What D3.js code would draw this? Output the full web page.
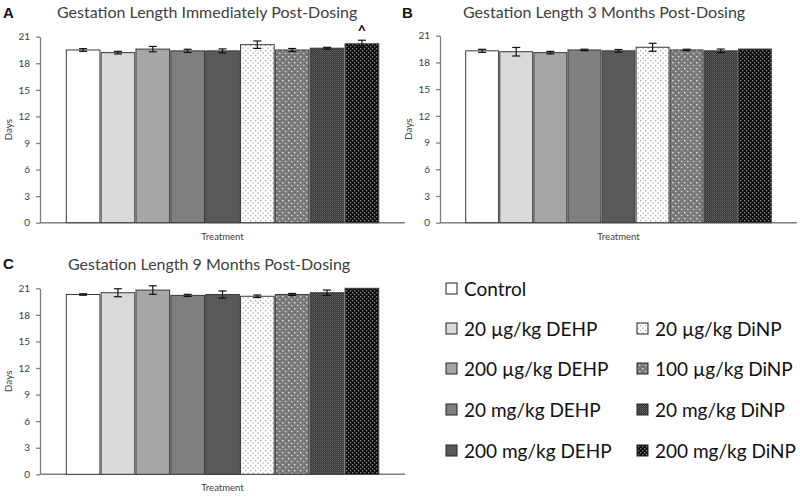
<!DOCTYPE html>
<html>
<head>
<meta charset="utf-8">
<script src="https://cdn.jsdelivr.net/npm/d3@7"></script>
<style>
  body { margin: 0; background: #fff; }
  svg { display: block; font-family: Lato, "Open Sans", sans-serif; }
</style>
</head>
<body>
<svg id="chart" width="800" height="499"></svg>
<script>
// treatment groups, same order in every panel
var groups = ["Control", "20 µg/kg DEHP", "200 µg/kg DEHP", "20 mg/kg DEHP", "200 mg/kg DEHP",
              "20 µg/kg DiNP", "100 µg/kg DiNP", "20 mg/kg DiNP", "200 mg/kg DiNP"];

// mean gestation length (days) and error (+/-)
var immediateMeans = [19.5, 19.2, 19.6, 19.4, 19.4, 20.1, 19.5, 19.7, 20.2];
var immediateErr   = [0.15, 0.15, 0.3, 0.18, 0.22, 0.42, 0.17, 0.1, 0.4];
var month3Means = [19.3, 19.2, 19.1, 19.4, 19.3, 19.7, 19.4, 19.3, 19.5];
var month3Err   = [0.17, 0.48, 0.14, 0.08, 0.15, 0.45, 0.08, 0.2, 0];
var month9Means = [20.3, 20.5, 20.8, 20.2, 20.3, 20.1, 20.3, 20.5, 21.0];
var month9Err   = [0.08, 0.45, 0.48, 0.12, 0.4, 0.14, 0.12, 0.3, 0];

var yTicks = [0, 3, 6, 9, 12, 15, 18, 21];

var svg = d3.select("#chart");

// fills: plain greys for DEHP, patterns for DiNP
var defs = svg.append("defs");

function dotPattern(id, bg, dot, size, r){
    var p = defs.append("pattern").attr("id", id)
        .attr("patternUnits", "userSpaceOnUse")
        .attr("width", size).attr("height", size);
    p.append("rect").attr("width", size).attr("height", size).attr("fill", bg);
    p.append("rect").attr("x", 0).attr("y", 0).attr("width", r).attr("height", r).attr("fill", dot);
    p.append("rect").attr("x", size/2).attr("y", size/2).attr("width", r).attr("height", r).attr("fill", dot);
    return p;
}
dotPattern("pDiNP20u", "#ffffff", "#a8a8a8", 5, 1.3);
var p100 = defs.append("pattern").attr("id", "pDiNP100u")
    .attr("patternUnits", "userSpaceOnUse").attr("width", 6).attr("height", 6);
p100.append("rect").attr("width", 6).attr("height", 6).attr("fill", "#7c7c7c");
p100.append("rect").attr("x", 1).attr("y", 0).attr("width", 1).attr("height", 1).attr("fill", "#666");
p100.append("rect").attr("x", 4).attr("y", 3).attr("width", 1).attr("height", 1).attr("fill", "#666");
p100.append("rect").attr("x", 0).attr("y", 2).attr("width", 1.4).attr("height", 1.4).attr("fill", "#e0e0e0");
p100.append("rect").attr("x", 3).attr("y", 5).attr("width", 1.4).attr("height", 1.4).attr("fill", "#e0e0e0");
var p20m = defs.append("pattern").attr("id", "pDiNP20m")
    .attr("patternUnits", "userSpaceOnUse").attr("width", 2).attr("height", 2);
p20m.append("rect").attr("width", 2).attr("height", 2).attr("fill", "#333");
p20m.append("rect").attr("x", 0).attr("width", 1).attr("height", 1).attr("fill", "#6a6a6a");
p20m.append("rect").attr("x", 1).attr("y", 1).attr("width", 1).attr("height", 1).attr("fill", "#555");
dotPattern("pDiNP200m", "#0a0a0a", "#8a8a8a", 4, 1.3);

var fills = ["#ffffff", "#d9d9d9", "#a6a6a6", "#7f7f7f", "#595959",
             "url(#pDiNP20u)", "url(#pDiNP100u)", "url(#pDiNP20m)", "url(#pDiNP200m)"];

var panels = [
    {letter: "A", title: "Gestation Length Immediately Post-Dosing", means: immediateMeans, err: immediateErr,
     left: 40, right: 405, top: 36.7, bottom: 222.7, lx: 3, ly: 18, tx: 57, ty: 18, mark: 8},
    {letter: "B", title: "Gestation Length 3 Months Post-Dosing", means: month3Means, err: month3Err,
     left: 440, right: 797, top: 35.7, bottom: 222.7, lx: 402, ly: 18, tx: 463, ty: 18, mark: -1},
    {letter: "C", title: "Gestation Length 9 Months Post-Dosing", means: month9Means, err: month9Err,
     left: 40, right: 405, top: 288.3, bottom: 474.3, lx: 3, ly: 269, tx: 68, ty: 270, mark: -1}
];

panels.forEach(function(p){
    var inset = (p.right - p.left) * 0.072;
    var x = d3.scaleBand()
        .domain(groups)
        .range([p.left + inset, p.right - inset])
        .paddingInner(0.035);
    var y = d3.scaleLinear().domain([0, 21]).range([p.bottom, p.top]);

    var g = svg.append("g");

    g.append("text").attr("x", p.lx).attr("y", p.ly)
        .attr("font-family", "Liberation Sans, Arial, sans-serif")
        .attr("font-weight", "bold").attr("font-size", 15).attr("fill", "#111")
        .text(p.letter);
    g.append("text").attr("x", p.tx).attr("y", p.ty)
        .attr("font-size", 16).attr("fill", "#404040")
        .text(p.title);

    // y axis
    g.append("g")
        .attr("transform", `translate(${p.left},0)`)
        .call(d3.axisLeft(y).tickValues(yTicks).tickSize(4).tickPadding(6).tickSizeOuter(0))
        .call(a => a.selectAll("path, line").attr("stroke", "#7f7f7f").attr("stroke-width", 1.3))
        .call(a => a.selectAll("text").attr("font-family", "Lato, sans-serif").attr("font-size", 10).attr("fill", "#404040"));

    // x axis line only
    g.append("line")
        .attr("x1", p.left).attr("x2", p.right)
        .attr("y1", y(0)).attr("y2", y(0))
        .attr("stroke", "#7f7f7f").attr("stroke-width", 1.5);

    g.append("text")
        .attr("transform", `translate(${p.left - 28},${(p.top + p.bottom) / 2}) rotate(-90)`)
        .attr("text-anchor", "middle").attr("font-size", 10).attr("fill", "#404040")
        .text("Days");

    g.append("text")
        .attr("x", (p.left + p.right) / 2).attr("y", p.bottom + 17)
        .attr("text-anchor", "middle").attr("font-size", 9.5).attr("fill", "#404040")
        .text("Treatment");

    g.selectAll("rect.bar")
        .data(p.means)
        .join("rect")
        .attr("class", "bar")
        .attr("x", (d, i) => x(groups[i]))
        .attr("y", d => y(d))
        .attr("width", x.bandwidth())
        .attr("height", d => y(0) - y(d))
        .attr("fill", (d, i) => fills[i])
        .attr("stroke", "#3a3a3a")
        .attr("stroke-width", 1);

    var eb = g.append("g").attr("stroke", "#111").attr("stroke-width", 1.2);
    p.means.forEach(function(m, i){
        var e = p.err[i];
        if(e <= 0) return;
        var cx = x(groups[i]) + x.bandwidth() / 2;
        eb.append("line").attr("x1", cx).attr("x2", cx).attr("y1", y(m - e)).attr("y2", y(m + e));
        eb.append("line").attr("x1", cx - 4).attr("x2", cx + 4).attr("y1", y(m - e)).attr("y2", y(m - e));
        eb.append("line").attr("x1", cx - 4).attr("x2", cx + 4).attr("y1", y(m + e)).attr("y2", y(m + e));
    });

    // significance mark
    if(p.mark >= 0){
        var i = p.mark;
        g.append("text")
            .attr("x", x(groups[i]) + x.bandwidth() / 2)
            .attr("y", y(p.means[i] + p.err[i]) - 4)
            .attr("text-anchor", "middle").attr("font-size", 15).attr("font-weight", "bold").attr("fill", "#222")
            .text("^");
    }
});

// legend, two columns
var legendRows = [289, 329, 369, 410, 451];
var legendCols = [446, 637];
var legendPos = [[0, 0], [0, 1], [0, 2], [0, 3], [0, 4], [1, 1], [1, 2], [1, 3], [1, 4]];

var legend = svg.append("g");
groups.forEach(function(name, i){
    var c = legendCols[legendPos[i][0]];
    var r = legendRows[legendPos[i][1]];
    legend.append("rect")
        .attr("x", c).attr("y", r - 6).attr("width", 11).attr("height", 11)
        .attr("fill", fills[i]).attr("stroke", "#222").attr("stroke-width", 1);
    legend.append("text")
        .attr("x", c + 18).attr("y", r + 7)
        .attr("font-size", 19).attr("fill", "#111")
        .text(name);
});
</script>
</body>
</html>
